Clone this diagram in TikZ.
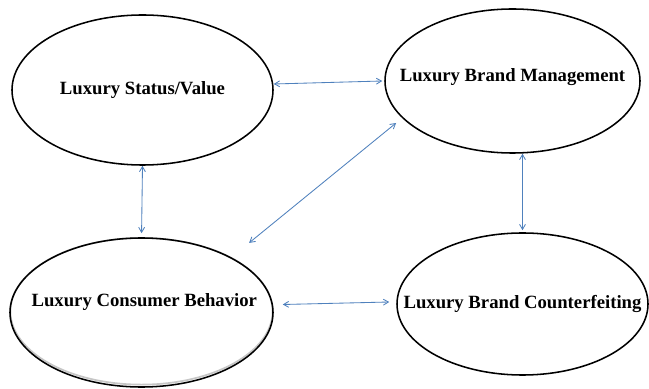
\documentclass[tikz,border=0pt]{standalone}
\usepackage{fontspec}
\setmainfont{Liberation Serif}
\usepackage{tikz}
\usetikzlibrary{arrows,shapes}

\definecolor{linkblue}{RGB}{79,129,189}

\begin{document}
\begin{tikzpicture}[
        oval/.style={draw, ellipse, line width=1.1pt, inner sep=0pt},
        caption/.style={font=\fontsize{13.3}{16}\selectfont\bfseries},
        link/.style={<->, >=angle 60, linkblue, line width=0.6pt}
    ]
        \useasboundingbox[fill=white] (0,0) rectangle (16.225,9.7);
        \node[oval, minimum width=6.525cm, minimum height=3.75cm,
            label={[caption]center:Luxury Status/Value}] (sv) at (3.5625,7.45) {};
        \node[oval, minimum width=6.375cm, minimum height=3.6cm,
            label={[caption, yshift=0.1cm]center:Luxury Brand Management}] (bm) at (12.8125,7.675) {};
        % shadow under the consumer ellipse
        \draw[gray!45, line width=1.2pt] (3.5375,1.9175) ellipse (3.2775cm and 1.8325cm);
        \node[oval, minimum width=6.575cm, minimum height=3.725cm,
            label={[caption, xshift=0.07cm, yshift=0.26cm]center:Luxury Consumer Behavior}] (cb) at (3.5375,1.8875) {};
        \node[oval, minimum width=6.275cm, minimum height=3.55cm,
            label={[caption]center:Luxury Brand Counterfeiting}] (bc) at (13.0625,2.1) {};
        \draw[link] ([yshift=0.15cm]sv.east) -- ([xshift=-0.05cm]bm.west);
        \draw[link, shorten >=0.1cm] (sv.south) -- (cb.north);
        \draw[link] ([shift={(2.69,1.74)}]cb.center) -- ([shift={(-2.91,-1.05)}]bm.center);
        \draw[link, shorten >=0.05cm] (bc.north |- bm.south) -- (bc.north);
        \draw[link] ([shift={(0.225,0.2)}]cb.east) -- ([shift={(-0.175,0.05)}]bc.west);
    \end{tikzpicture}
\end{document}
